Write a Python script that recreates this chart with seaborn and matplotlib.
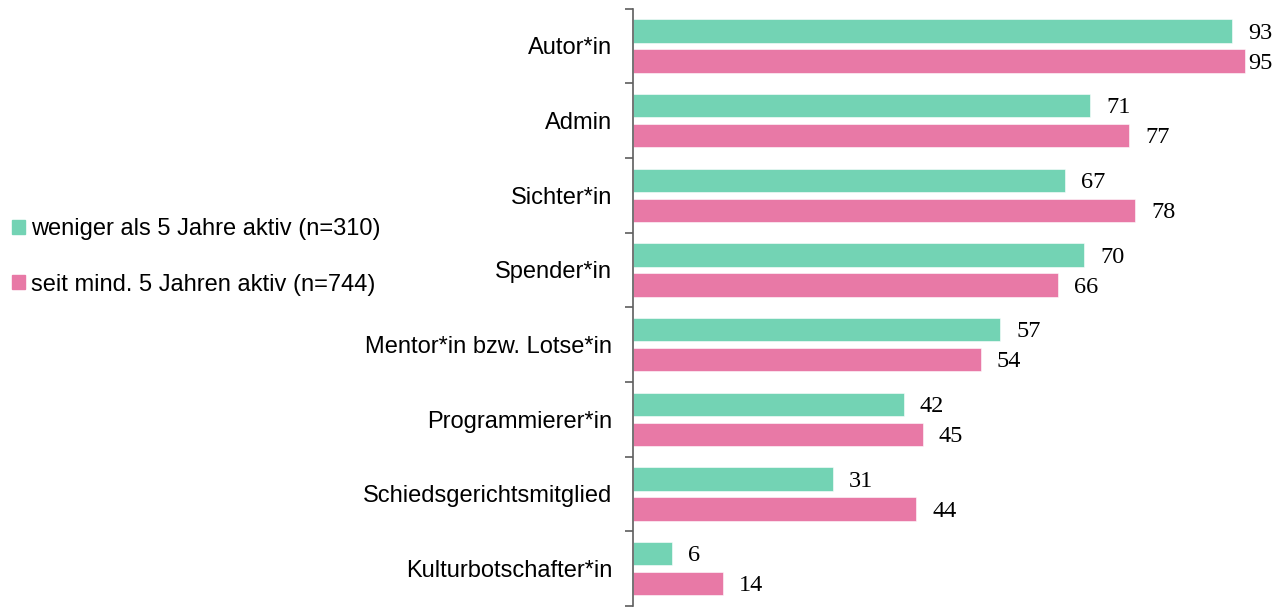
import matplotlib
matplotlib.use("Agg")
import matplotlib.pyplot as plt
import seaborn as sns
import pandas as pd

# Rollen und Anteile (in %) nach Dauer der Aktivität
categories = [
    "Autor*in",
    "Admin",
    "Sichter*in",
    "Spender*in",
    "Mentor*in bzw. Lotse*in",
    "Programmierer*in",
    "Schiedsgerichtsmitglied",
    "Kulturbotschafter*in",
]
group_labels = [
    "weniger als 5 Jahre aktiv (n=310)",
    "seit mind. 5 Jahren aktiv (n=744)",
]
values_new = [93, 71, 67, 70, 57, 42, 31, 6]
values_old = [95, 77, 78, 66, 54, 45, 44, 14]
colors = ["#73D3B4", "#E879A6"]

df = pd.DataFrame({
    "Rolle": categories * 2,
    "Gruppe": [group_labels[0]] * len(categories) + [group_labels[1]] * len(categories),
    "Wert": values_new + values_old,
})

sns.set_style("white")
plt.rcParams["font.family"] = ["Liberation Sans", "DejaVu Sans"]

fig = plt.figure(figsize=(12.72, 6.10), dpi=100)
ax = fig.add_axes([633 / 1272, 4 / 610, (1272 - 633) / 1272, 597.4 / 610])

sns.barplot(
    data=df, y="Rolle", x="Wert", hue="Gruppe", order=categories,
    hue_order=group_labels, palette=colors, orient="h",
    width=0.8, gap=0.22, saturation=1, edgecolor="white", linewidth=0.4,
    ax=ax,
)

xmax = 99.2
ax.set_xlim(0, xmax)
ax.set_ylim(len(categories) - 0.5, -0.5)

# Wertebeschriftungen
for container, vals in zip(ax.containers, [values_new, values_old]):
    for patch, v in zip(container, vals):
        y = patch.get_y() + patch.get_height() / 2
        pad = 2.5 if v + 2.5 + 3.5 <= xmax else 0.5
        ax.text(v + pad, y + 0.03, f"{v}", ha="left", va="center",
                fontsize=17.5, family=["Liberation Serif", "DejaVu Serif"],
                color="black")

# Achsen
for s in ["top", "right", "bottom"]:
    ax.spines[s].set_visible(False)
ax.spines["left"].set_color("#5e5e5e")
ax.spines["left"].set_linewidth(1.2)
ax.set_xticks([])
ax.set_xlabel("")
ax.set_ylabel("")
ax.set_yticks(range(len(categories)))
ax.set_yticklabels(categories, fontsize=17, color="black")
ax.tick_params(axis="y", which="major", length=0, pad=15)
ax.set_yticks([i - 0.5 for i in range(len(categories) + 1)], minor=True)
ax.tick_params(axis="y", which="minor", left=True, length=6, width=1.2,
               color="#5e5e5e", direction="out")

# Legende links
ax.legend_.remove()
handles = [plt.Rectangle((0, 0), 1, 1, color=c) for c in colors]
leg = fig.legend(handles, group_labels, loc="center left",
                 bbox_to_anchor=(12 / 1272, 1 - 257 / 610), frameon=False,
                 fontsize=17, handlelength=0.55, handleheight=0.55,
                 handletextpad=0.25, labelspacing=1.4, borderpad=0,
                 borderaxespad=0)
for t in leg.get_texts():
    t.set_color("black")

fig.savefig("out.png", dpi=100)
